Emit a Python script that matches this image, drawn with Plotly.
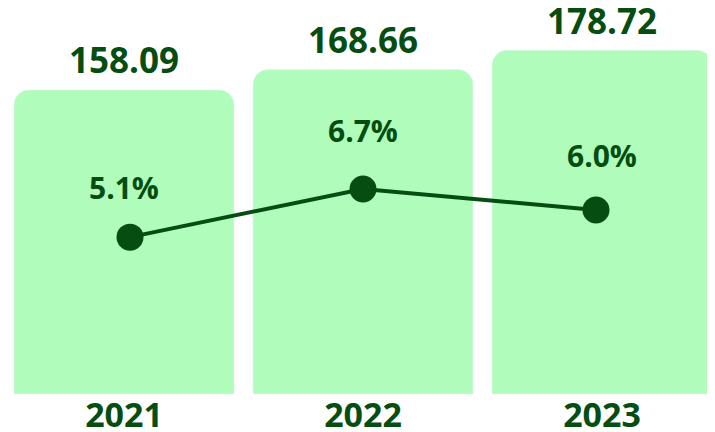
import plotly.graph_objects as go

years = ["2021", "2022", "2023"]
values = [158.09, 168.66, 178.72]
growth = [5.1, 6.7, 6.0]
value_labels = ["158.09", "168.66", "178.72"]
growth_labels = ["5.1%", "6.7%", "6.0%"]

BAR = "#b0fdbb"
DARK = "#064d12"
FONT = "Open Sans"

fig = go.Figure()
fig.add_trace(go.Bar(x=years, y=values, marker=dict(color=BAR, cornerradius=15),
                     width=0.92, hoverinfo="skip"))
fig.add_trace(go.Scatter(x=years, y=growth, xaxis="x2", yaxis="y2", mode="lines+markers",
                         line=dict(color=DARK, width=4),
                         marker=dict(color=DARK, size=27), hoverinfo="skip"))

annotations = []
for i, (v, t) in enumerate(zip(values, value_labels)):
    annotations.append(dict(x=i, y=v, xref="x", yref="y", text="<b>%s</b>" % t, showarrow=False,
                            yanchor="middle", yshift=30,
                            font=dict(family=FONT, size=35, color=DARK)))
for i, (g, t) in enumerate(zip(growth, growth_labels)):
    annotations.append(dict(x=i, y=g, xref="x", yref="y2", text="<b>%s</b>" % t, showarrow=False,
                            yanchor="middle", yshift=50 + (g - growth[0]) * 5,
                            font=dict(family=FONT, size=30, color=DARK)))

fig.update_layout(
    width=715, height=432,
    margin=dict(l=0, r=0, t=0, b=46, autoexpand=False),
    paper_bgcolor="white", plot_bgcolor="white",
    showlegend=False,
    xaxis=dict(type="category", range=[-0.4854, 2.5063], showgrid=False, zeroline=False,
               showline=False, ticks="", automargin=False, ticklabelstandoff=-2,
               tickfont=dict(family=FONT, size=34, color=DARK, weight="bold"),
               fixedrange=True),
    xaxis2=dict(type="category", range=[-0.5236, 2.5451], overlaying="x", visible=False,
                fixedrange=True),
    yaxis=dict(range=[0, 200.7], visible=False, fixedrange=True, automargin=False),
    yaxis2=dict(range=[-0.11, 12.71], overlaying="y", visible=False, fixedrange=True),
    annotations=annotations,
)

fig.write_html("out.html")
